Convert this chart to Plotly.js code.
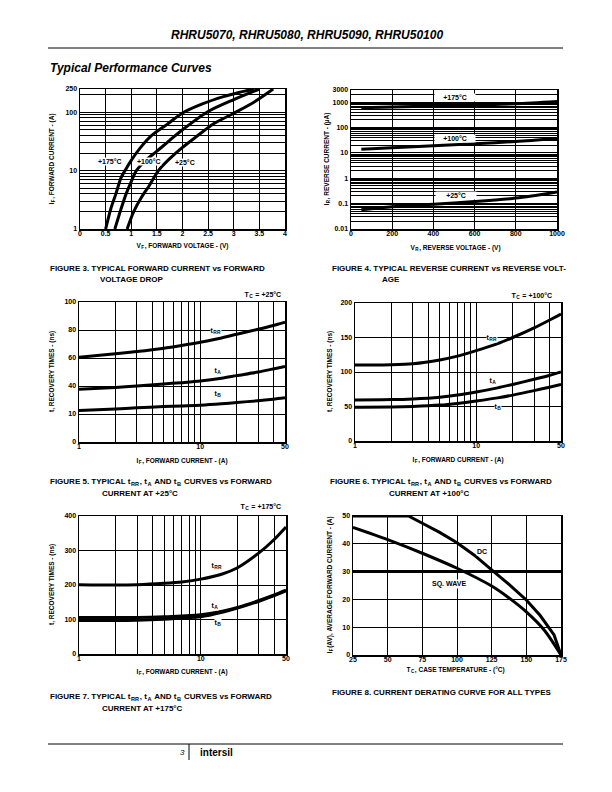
<!DOCTYPE html>
<html>
<head>
<meta charset="utf-8">
<script src="https://cdn.plot.ly/plotly-3.0.1.min.js"></script>
<style>html,body{margin:0;padding:0;background:#fff;}#chart{width:612px;height:792px;}</style>
</head>
<body>
<div id="chart"></div>
<script>
// ---------- DATA ----------
// Figure 3: forward current vs forward voltage
const vf175 = [0.5, 0.6, 0.7, 0.8, 0.9, 1.0, 1.2, 1.4, 1.7, 2.0, 2.4, 2.8, 3.1, 3.4];
const if175 = [1, 2.2, 4, 7.5, 10.8, 15, 26, 40, 62, 97, 140, 185, 218, 250];
const vf100 = [0.68, 0.8, 0.9, 1.0, 1.1, 1.3, 1.5, 1.75, 2.0, 2.5, 3.0, 3.5];
const if100 = [1, 2.2, 4, 6.5, 10, 15.5, 21.5, 33, 50, 103, 165, 250];
const vf25 = [0.92, 1.05, 1.2, 1.35, 1.53, 1.75, 2.0, 2.3, 2.6, 3.0, 3.4, 3.77];
const if25 = [1, 2, 3.5, 5.5, 10, 16, 25, 40, 63, 96, 150, 250];
// Figure 4: reverse current vs reverse voltage
const vr = [50, 200, 400, 600, 800, 1000];
const ir175 = [600, 640, 700, 780, 860, 1050];
const ir100 = [14, 16, 19, 23, 28, 37];
const ir25 = [0.057, 0.075, 0.095, 0.12, 0.165, 0.29];
// Figures 5-7: recovery times vs forward current
const ifRec = [1, 2, 3, 5, 7, 10, 15, 20, 30, 40, 50];
const trr25 = [60.5, 63, 64.6, 67, 69, 71.3, 74.3, 77, 80.5, 83.2, 85.6];
const ta25 = [37.6, 39, 40, 41.5, 42.4, 43.5, 45.5, 47.4, 50, 52.2, 54];
const tb25 = [22.5, 23.6, 24.4, 25.3, 25.8, 26.3, 27.3, 28.2, 29.5, 30.6, 31.6];
const trr100 = [110, 110.5, 112, 117.5, 123, 131, 141, 150, 164, 175, 184];
const ta100 = [59.5, 60, 61, 63.5, 66.5, 71, 77, 82, 89.5, 95, 100];
const tb100 = [49, 49.2, 50, 52, 54.5, 58, 62.5, 66.5, 73, 78, 82];
const trr175 = [201, 200, 201, 205, 209, 217, 232, 250, 293, 332, 368];
const ta175 = [106, 105.5, 106, 108, 110.5, 114, 124, 135, 155, 171, 185];
const tb175 = [97, 97, 98, 101, 104, 108, 121, 133, 153, 169, 183];
// Figure 8: derating
const tcDC = [25, 65, 75, 87.5, 100, 112.5, 125, 137.5, 150, 160, 170, 175];
const ifDC = [50, 50, 47.4, 44.1, 40.4, 35.9, 30.6, 25.4, 19.8, 14.2, 7.2, 0];
const tcSQ = [25, 50, 75, 100, 125, 137, 150, 163, 175];
const ifSQ = [45.9, 41.5, 36.6, 31.2, 24.8, 20.7, 15.5, 8.9, 0];
const sqLevel = [30];

// Tick labels
const f3xTicks = [0, 0.5, 1, 1.5, 2, 2.5, 3, 3.5, 4];
const f3xText = ['0', '0.5', '1', '1.5', '2', '2.5', '3', '3.5', '4'];
const f3yLabels = [1, 10, 100, 250];
const f4xTicks = [0, 200, 400, 600, 800, 1000];
const f4yLabels = [0.01, 0.1, 1, 10, 100, 1000, 3000];
const recXLabels = [1, 10, 50];
const f5yTicks = [0, 20, 40, 60, 80, 100];
const f5yText = ['0', '10', '40', '60', '80', '100'];
const f6yTicks = [0, 50, 100, 150, 200];
const f7yTicks = [0, 100, 200, 300, 400];
const f8xTicks = [25, 50, 75, 100, 125, 150, 175];
const f8yTicks = [0, 10, 20, 30, 40, 50];

// ---------- HELPERS ----------
const W = 612, H = 792;
const FONT = 'Liberation Sans, Arial, Helvetica, sans-serif';
const px = x => x / W;
const py = y => 1 - y / H;
const dx = (l, r) => [px(l), px(r)];
const dy = (t, b) => [py(b), py(t)];

function logGrid(lo, hi) {
  const v = [];
  for (let d = lo; d < hi; d *= 10) {
    for (let m = 1; m < 10; m++) {
      const t = +(m * d).toPrecision(3);
      if (t <= hi + 1e-9) v.push(t);
    }
  }
  if (Math.abs(v[v.length - 1] - hi) > 1e-9) v.push(hi);
  return v;
}
const tickfont = {family: FONT, size: 7, color: '#000', weight: 'bold'};
function minorGrid(vals) {
  return {tickmode: 'array', tickvals: vals, showgrid: true, gridcolor: '#000', gridwidth: 1, ticks: ''};
}
function axis(dom, anchor, opts) {
  return Object.assign({
    domain: dom, anchor: anchor, showline: true, mirror: true, linecolor: '#000', linewidth: 1.5,
    showgrid: true, gridcolor: '#000', gridwidth: 1, zeroline: false, ticks: '',
    tickfont: tickfont, fixedrange: true, tickmode: 'array'
  }, opts);
}
function line(x, y, xa, ya, shape) {
  return {x: x, y: y, xaxis: xa, yaxis: ya, type: 'scatter', mode: 'lines',
    line: {color: '#000', width: 3, shape: shape || 'spline', smoothing: 0.8},
    hoverinfo: 'skip', showlegend: false};
}
function ann(text, x, y, o) {
  return Object.assign({text: text, xref: 'paper', yref: 'paper', x: px(x), y: py(y),
    showarrow: false, xanchor: 'center', yanchor: 'middle',
    font: {family: FONT, size: 7, color: '#000', weight: 'bold'}}, o || {});
}
function lab(text, x, y, o) {
  return ann(text, x, y, Object.assign({bgcolor: '#fff', borderpad: 0}, o || {}));
}
function ytitle(text, x, y) {
  return ann(text, x, y, {textangle: -90, font: {family: FONT, size: 6.5, color: '#000', weight: 'bold'}});
}
function xtitle(text, x, y) {
  return ann(text, x, y, {font: {family: FONT, size: 6.5, color: '#000', weight: 'bold'}});
}
function cap(text, x, y) {
  return ann(text, x, y, {xanchor: 'left', align: 'left', font: {family: FONT, size: 8, color: '#000', weight: 'bold'}});
}

const f3yGrid = logGrid(1, 250);
const f4yGrid = logGrid(0.01, 3000);
const recXGrid = logGrid(1, 50);

// ---------- TRACES ----------
const data = [
  line(vf175, if175, 'x', 'y'), line(vf100, if100, 'x', 'y'), line(vf25, if25, 'x', 'y'),
  line(vr, ir175, 'x2', 'y2'), line(vr, ir100, 'x2', 'y2'), line(vr, ir25, 'x2', 'y2'),
  line(ifRec, trr25, 'x3', 'y3'), line(ifRec, ta25, 'x3', 'y3'), line(ifRec, tb25, 'x3', 'y3'),
  line(ifRec, trr100, 'x4', 'y4'), line(ifRec, ta100, 'x4', 'y4'), line(ifRec, tb100, 'x4', 'y4'),
  line(ifRec, trr175, 'x5', 'y5'), line(ifRec, ta175, 'x5', 'y5'), line(ifRec, tb175, 'x5', 'y5'),
  line(tcDC, ifDC, 'x6', 'y6', 'linear'), line(tcSQ, ifSQ, 'x6', 'y6'),
  {x: [25, 175], y: [sqLevel[0], sqLevel[0]], xaxis: 'x6', yaxis: 'y6', type: 'scatter', mode: 'lines',
   line: {color: '#000', width: 3}, hoverinfo: 'skip', showlegend: false}
];

const xStand = -3;

// ---------- LAYOUT ----------
const layout = {
  width: W, height: H, margin: {l: 0, r: 0, t: 0, b: 0},
  paper_bgcolor: '#fff', plot_bgcolor: '#fff', showlegend: false,
  // Figure 3
  xaxis: axis(dx(80, 285), 'y', {range: [0, 4], tickvals: f3xTicks, ticktext: f3xText, ticklabelstandoff: xStand}),
  yaxis: axis(dy(89, 229), 'x', {type: 'log', range: [0, Math.log10(250)], tickvals: f3yLabels, ticktext: f3yLabels.map(String), minor: minorGrid(f3yGrid)}),
  // Figure 4
  xaxis2: axis(dx(351, 557), 'y2', {range: [0, 1000], tickvals: f4xTicks, ticktext: f4xTicks.map(String), ticklabelstandoff: xStand}),
  yaxis2: axis(dy(90, 229), 'x2', {type: 'log', range: [-2, Math.log10(3000)], tickvals: f4yLabels, ticktext: f4yLabels.map(String), minor: minorGrid(f4yGrid)}),
  // Figure 5
  xaxis3: axis(dx(79, 285), 'y3', {type: 'log', range: [0, Math.log10(50)], tickvals: recXLabels, ticktext: recXLabels.map(String), minor: minorGrid(recXGrid), ticklabelstandoff: xStand}),
  yaxis3: axis(dy(302, 442), 'x3', {range: [0, 100], tickvals: f5yTicks, ticktext: f5yText}),
  // Figure 6
  xaxis4: axis(dx(355, 561), 'y4', {type: 'log', range: [0, Math.log10(50)], tickvals: recXLabels, ticktext: recXLabels.map(String), minor: minorGrid(recXGrid), ticklabelstandoff: xStand}),
  yaxis4: axis(dy(303, 441), 'x4', {range: [0, 200], tickvals: f6yTicks, ticktext: f6yTicks.map(String)}),
  // Figure 7
  xaxis5: axis(dx(79, 286), 'y5', {type: 'log', range: [0, Math.log10(50)], tickvals: recXLabels, ticktext: recXLabels.map(String), minor: minorGrid(recXGrid), ticklabelstandoff: xStand}),
  yaxis5: axis(dy(516, 654), 'x5', {range: [0, 400], tickvals: f7yTicks, ticktext: f7yTicks.map(String)}),
  // Figure 8
  xaxis6: axis(dx(353, 561), 'y6', {range: [25, 175], tickvals: f8xTicks, ticktext: f8xTicks.map(String), ticklabelstandoff: xStand}),
  yaxis6: axis(dy(516, 655), 'x6', {range: [0, 50], tickvals: f8yTicks, ticktext: f8yTicks.map(String)}),
  shapes: [
    {type: 'line', xref: 'paper', yref: 'paper', x0: px(48), x1: px(563), y0: py(48), y1: py(48), line: {color: '#000', width: 1}},
    {type: 'line', xref: 'paper', yref: 'paper', x0: px(48), x1: px(563), y0: py(744), y1: py(744), line: {color: '#000', width: 1}},
    {type: 'line', xref: 'paper', yref: 'paper', x0: px(189), x1: px(189), y0: py(744), y1: py(760), line: {color: '#000', width: 1}}
  ],
  annotations: [
    ann('RHRU5070, RHRU5080, RHRU5090, RHRU50100', 307, 35, {font: {family: FONT, size: 12, color: '#000', weight: 'bold', style: 'italic'}}),
    ann('Typical Performance Curves', 48, 68, {xanchor: 'left', font: {family: FONT, size: 12, color: '#000', weight: 'bold', style: 'italic'}}),
    // Figure 3
    lab('+175°C', 110, 161), lab('+100°C', 149, 161), lab('+25°C', 185, 163),
    ytitle('I<sub>F</sub>, FORWARD CURRENT - (A)', 52, 159),
    xtitle('V<sub>F</sub>, FORWARD VOLTAGE - (V)', 182, 246),
    cap('FIGURE 3. TYPICAL FORWARD CURRENT vs FORWARD', 48, 268),
    cap('VOLTAGE DROP', 98, 279),
    // Figure 4
    lab('+175°C', 455, 97, {width: 40}), lab('+100°C', 455, 138, {width: 40}), lab('+25°C', 456, 195, {width: 40}),
    ytitle('I<sub>R</sub>, REVERSE CURRENT - (µA)', 327, 159),
    xtitle('V<sub>R</sub>, REVERSE VOLTAGE - (V)', 455, 248),
    cap('FIGURE 4. TYPICAL REVERSE CURRENT vs REVERSE VOLT-', 330, 268),
    cap('AGE', 380, 279),
    // Figure 5
    ann('T<sub>C</sub> = +25°C', 283, 295, {xanchor: 'right'}),
    lab('t<sub>RR</sub>', 216, 331), lab('t<sub>A</sub>', 218, 371), lab('t<sub>B</sub>', 218, 394),
    ytitle('t, RECOVERY TIMES - (ns)', 52, 372),
    xtitle('I<sub>F</sub>, FORWARD CURRENT - (A)', 182, 461),
    cap('FIGURE 5. TYPICAL t<sub>RR</sub>, t<sub>A</sub> AND t<sub>B</sub> CURVES vs FORWARD', 48, 482),
    cap('CURRENT AT +25°C', 100, 493),
    // Figure 6
    ann('T<sub>C</sub> = +100°C', 553, 296, {xanchor: 'right'}),
    lab('t<sub>RR</sub>', 492, 338), lab('t<sub>A</sub>', 493, 381), lab('t<sub>B</sub>', 498, 407),
    ytitle('t, RECOVERY TIMES - (ns)', 330, 372),
    xtitle('I<sub>F</sub>, FORWARD CURRENT - (A)', 458, 460),
    cap('FIGURE 6. TYPICAL t<sub>RR</sub>, t<sub>A</sub> AND t<sub>B</sub> CURVES vs FORWARD', 328, 482),
    cap('CURRENT AT +100°C', 387, 493),
    // Figure 7
    ann('T<sub>C</sub> = +175°C', 282, 507, {xanchor: 'right'}),
    lab('t<sub>RR</sub>', 217, 566), lab('t<sub>A</sub>', 215, 606), lab('t<sub>B</sub>', 218, 623),
    ytitle('t, RECOVERY TIMES - (ns)', 52, 585),
    xtitle('I<sub>F</sub>, FORWARD CURRENT - (A)', 182, 672),
    cap('FIGURE 7. TYPICAL t<sub>RR</sub>, t<sub>A</sub> AND t<sub>B</sub> CURVES vs FORWARD', 48, 697),
    cap('CURRENT AT +175°C', 100, 708),
    // Figure 8
    lab('DC', 482, 551), lab('SQ. WAVE', 449, 584),
    ytitle('I<sub>F</sub>(AV), AVERAGE FORWARD CURRENT - (A)', 330, 585),
    xtitle('T<sub>C</sub>, CASE TEMPERATURE - (°C)', 455, 670),
    cap('FIGURE 8. CURRENT DERATING CURVE FOR ALL TYPES', 330, 692),
    // Footer
    ann('3', 182, 752, {font: {family: FONT, size: 8, color: '#000', style: 'italic'}}),
    ann('intersil', 198, 752, {xanchor: 'left', font: {family: FONT, size: 10, color: '#000', weight: 'bold'}})
  ]
};

Plotly.newPlot('chart', data, layout, {displayModeBar: false, staticPlot: true}).then(function (gd) {
  // Plotly pads sub/superscripts with zero-width-space text pieces; give them a hair-space width
  const walker = document.createTreeWalker(gd, NodeFilter.SHOW_TEXT);
  const nodes = [];
  while (walker.nextNode()) nodes.push(walker.currentNode);
  nodes.forEach(function (n) {
    if (n.nodeValue && /^\u200b+$/.test(n.nodeValue)) n.nodeValue = '\u200a';
  });
});
</script>
</body>
</html>
